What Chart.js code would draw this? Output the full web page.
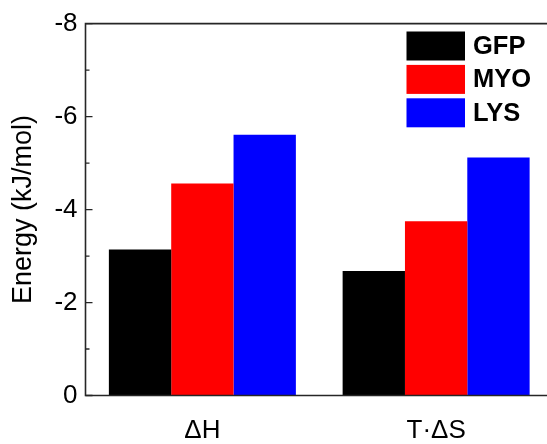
<!DOCTYPE html>
<html>
<head>
<meta charset="utf-8">
<script src="https://cdn.jsdelivr.net/npm/chart.js@4/dist/chart.umd.min.js"></script>
<style>
  html, body { margin: 0; padding: 0; background: #fff; overflow: hidden; }
  #wrap { width: 547px; height: 444px; overflow: hidden; }
</style>
</head>
<body>
<div id="wrap"><canvas id="chart" width="553" height="444"></canvas></div>
<script>
const categories = ['ΔH', 'T·ΔS']
const gfp = [-3.14, -2.68]
const myo = [-4.56, -3.75]
const lys = [-5.61, -5.12]
const yTicks = [0, -2, -4, -6, -8]
const yMinor = [-1, -3, -5, -7]

const font = 'Liberation Sans, Arial, sans-serif'

// frame, inward ticks and the boxed legend
const decor = {
  id: 'decor',
  afterDraw (chart) {
    const ctx = chart.ctx
    const a = chart.chartArea
    const y = chart.scales.y
    ctx.save()
    ctx.strokeStyle = '#262626'
    ctx.lineWidth = 1.6
    ctx.beginPath()
    ctx.moveTo(a.right + 2, a.top)
    ctx.lineTo(a.left, a.top)
    ctx.lineTo(a.left, a.bottom)
    ctx.lineTo(a.right + 2, a.bottom)
    ctx.stroke()

    ctx.lineWidth = 1.3
    ctx.beginPath()
    for (let v of yTicks) {
      let p = y.getPixelForValue(v)
      ctx.moveTo(a.left, p)
      ctx.lineTo(a.left + 7, p)
    }
    for (let v of yMinor) {
      let p = y.getPixelForValue(v)
      ctx.moveTo(a.left, p)
      ctx.lineTo(a.left + 4, p)
    }
    ctx.stroke()

    let top = 31.5
    ctx.font = 'bold 25.5px ' + font
    ctx.textBaseline = 'middle'
    ctx.textAlign = 'left'
    for (let ds of chart.data.datasets) {
      ctx.fillStyle = ds.backgroundColor
      ctx.fillRect(406.5, top, 58.5, 29)
      ctx.fillStyle = '#000'
      ctx.fillText(ds.label, 473, top + 15.5)
      top += 33.4
    }
    ctx.restore()
  }
}

new Chart(document.getElementById('chart'), {
  type: 'bar',
  data: {
    labels: categories,
    datasets: [
      { label: 'GFP', data: gfp, backgroundColor: '#000000' },
      { label: 'MYO', data: myo, backgroundColor: '#ff0000' },
      { label: 'LYS', data: lys, backgroundColor: '#0000ff' }
    ]
  },
  options: {
    responsive: false,
    animation: false,
    devicePixelRatio: 1,
    layout: { padding: { top: 19.5, right: 0, left: 0, bottom: 0 } },
    datasets: { bar: { categoryPercentage: 0.8, barPercentage: 1 } },
    plugins: { legend: { display: false }, tooltip: { enabled: false } },
    scales: {
      x: {
        grid: { display: false },
        border: { display: false },
        ticks: { color: '#000', padding: 12, font: { family: font, size: 26 } },
        afterFit (scale) { scale.height = 48.5 }
      },
      y: {
        min: -8,
        max: 0,
        reverse: true,
        grid: { display: false, drawTicks: false },
        border: { display: false },
        ticks: {
          stepSize: 2,
          padding: 8,
          color: '#000',
          font: { family: font, size: 26 },
          callback: (v) => String(v)
        },
        title: {
          display: true,
          text: 'Energy (kJ/mol)',
          color: '#000',
          font: { family: font, size: 27 },
          padding: { top: 7, bottom: 4 }
        },
        afterFit (scale) { scale.width = 85.5 }
      }
    }
  },
  plugins: [decor]
})
</script>
</body>
</html>
